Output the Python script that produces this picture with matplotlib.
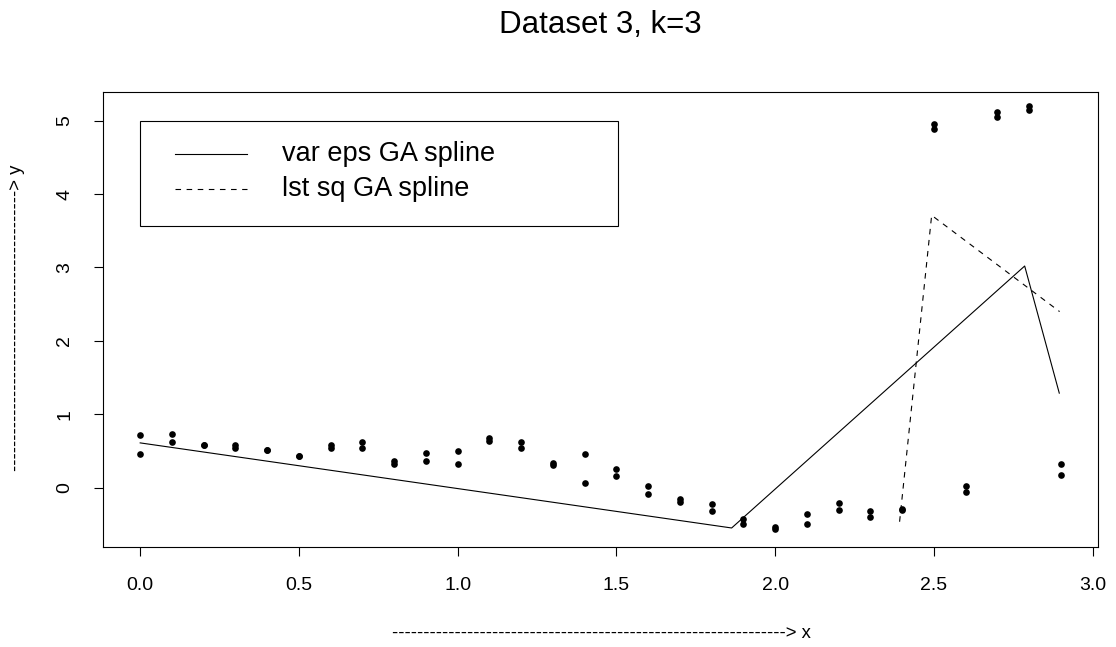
import numpy as np
import matplotlib.pyplot as plt
from matplotlib.patches import Rectangle

plt.rcParams['font.family'] = ['Liberation Sans', 'DejaVu Sans']

# observed data: two replicates at each x
x = [0.0, 0.1, 0.2, 0.3, 0.4, 0.5, 0.6, 0.7, 0.8, 0.9,
     1.0, 1.1, 1.2, 1.3, 1.4, 1.5, 1.6, 1.7, 1.8, 1.9,
     2.0, 2.1, 2.2, 2.3, 2.4, 2.5, 2.6, 2.7, 2.8, 2.9]
y1 = [0.72, 0.73, 0.58, 0.58, 0.52, 0.44, 0.58, 0.63, 0.36, 0.47,
      0.50, 0.68, 0.63, 0.34, 0.46, 0.26, 0.02, -0.15, -0.22, -0.42,
      -0.53, -0.35, -0.20, -0.31, -0.29, 4.95, 0.03, 5.12, 5.20, 0.33]
y2 = [0.46, 0.62, 0.59, 0.54, 0.51, 0.43, 0.54, 0.54, 0.33, 0.36,
      0.32, 0.64, 0.54, 0.31, 0.07, 0.16, -0.08, -0.19, -0.32, -0.49,
      -0.56, -0.49, -0.30, -0.39, -0.30, 4.89, -0.05, 5.05, 5.14, 0.17]

# fitted splines
var_eps_x = [0.0, 1.863, 2.786, 2.895]
var_eps_y = [0.613, -0.545, 3.02, 1.29]
lsq_x = [2.392, 2.493, 2.896]
lsq_y = [-0.46, 3.71, 2.40]

fig = plt.figure(figsize=(11.16, 6.47), dpi=100)
ax = fig.add_axes([0.0926, 0.155, 0.891, 0.703])

ax.plot(x, y1, 'o', color='black', ms=4.8, mew=0)
ax.plot(x, y2, 'o', color='black', ms=4.8, mew=0)
ax.plot(var_eps_x, var_eps_y, color='black', lw=0.8)
ax.plot(lsq_x, lsq_y, color='black', lw=0.8, linestyle=(0, (5, 5)))

ax.set_xlim(-0.116, 3.016)
ax.set_ylim(-0.80, 5.39)
ax.set_xticks(np.arange(0, 3.01, 0.5))
ax.set_xticklabels(['%.1f' % v for v in np.arange(0, 3.01, 0.5)])
ax.set_yticks(range(6))
ax.set_yticklabels([str(v) for v in range(6)], rotation=90, va='center')
ax.tick_params(direction='out', length=6.5, width=0.8, labelsize=14, pad=15)
for s in ax.spines.values():
    s.set_linewidth(0.8)

# legend box anchored at (0, 5) in data units
ax.add_patch(Rectangle((0.0, 3.565), 1.504, 1.435, fill=False, lw=0.8, ec='black'))
ax.plot([0.110, 0.3355], [4.542, 4.542], color='black', lw=0.8)
ax.plot([0.110, 0.3355], [4.065, 4.065], color='black', lw=0.8, linestyle=(0, (5, 5)))
ax.text(0.4475, 4.542, 'var eps GA spline', fontsize=19.5, va='center', ha='left')
ax.text(0.4475, 4.065, 'lst sq GA spline', fontsize=19.5, va='center', ha='left')

fig.text(600 / 1116, 1 - 25 / 647, 'Dataset 3, k=3', fontsize=22.5, ha='center', va='center')
fig.text(601 / 1116, 1 - 634 / 647, '-' * 63 + '> x', fontsize=13.3, ha='center', va='center')
fig.text(17 / 1116, 1 - 318 / 647, '-' * 45 + '> y', fontsize=13.3, ha='center', va='center',
         rotation=90)

fig.savefig('out.png', dpi=100)
